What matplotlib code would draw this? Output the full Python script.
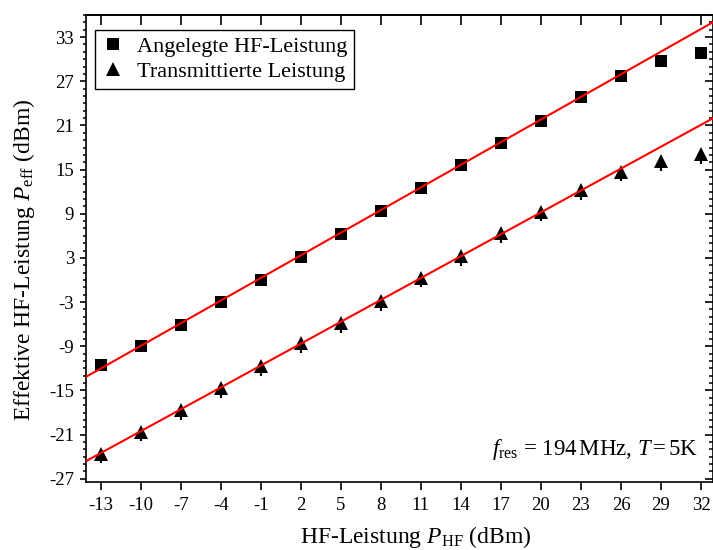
import matplotlib
matplotlib.use("Agg")
import matplotlib.pyplot as plt
import numpy as np
from matplotlib.ticker import MultipleLocator

# ---------------- data ----------------
x_dbm = [-13, -10, -7, -4, -1, 2, 5, 8, 11, 14, 17, 20, 23, 26, 29, 32]
p_applied = [-11.5, -9.0, -6.1, -3.05, 0.0, 3.15, 6.3, 9.4, 12.45, 15.6,
             18.65, 21.65, 24.8, 27.7, 29.8, 30.8]
p_trans = [-23.6, -20.6, -17.7, -14.7, -11.7, -8.55, -5.9, -2.85, 0.3, 3.25,
           6.35, 9.3, 12.2, 14.7, 16.1, 17.1]
p_trans_err_low = [1.3] * len(x_dbm)
p_trans_err_up = [0.0] * len(x_dbm)

fit_applied = (1.025, 1.3)     # slope, intercept
fit_trans = (0.991, -10.63)

x_ticks = list(range(-13, 33, 3))
y_ticks = list(range(-27, 34, 6))

label_applied = "Angelegte HF-Leistung"
label_trans = "Transmittierte Leistung"

# ---------------- style ----------------
plt.rcParams["font.family"] = ["Liberation Serif", "DejaVu Serif"]
plt.rcParams["mathtext.fontset"] = "custom"
plt.rcParams["mathtext.rm"] = "Liberation Serif"
plt.rcParams["mathtext.it"] = "Liberation Serif:italic"
plt.rcParams["axes.unicode_minus"] = False

fig = plt.figure(figsize=(7.13, 5.5), dpi=100)
ax = fig.add_axes([86 / 713, (550 - 481.5) / 550, (713 - 86) / 713, (481.5 - 15) / 550])

xlim = (-14.1, 32.9)
ax.set_xlim(*xlim)
ax.set_ylim(-27.37, 36.0)

ax.plot(x_dbm, p_applied, linestyle="none", marker="s", markersize=8.8,
        color="black", markeredgewidth=0, zorder=3, label=label_applied)
ax.errorbar(x_dbm, p_trans, yerr=[p_trans_err_low, p_trans_err_up], fmt="none",
            ecolor="black", elinewidth=1.5, capsize=0, zorder=3)
ax.plot(x_dbm, p_trans, linestyle="none", marker="^", markersize=10,
        color="black", markeredgewidth=0, zorder=3, label=label_trans)

xs = np.array(xlim)
ax.plot(xs, fit_applied[0] * xs + fit_applied[1], color="red", lw=1.5, zorder=4)
ax.plot(xs, fit_trans[0] * xs + fit_trans[1], color="red", lw=1.5, zorder=4)

ax.set_xticks(x_ticks)
ax.set_xticklabels([str(v) for v in x_ticks])
ax.set_yticks(y_ticks)
ax.set_yticklabels([str(v) for v in y_ticks])
ax.yaxis.set_minor_locator(MultipleLocator(1))

ax.tick_params(axis="both", which="both", direction="out", width=1.2,
               labelsize=13.5, top=False, right=False)
ax.tick_params(axis="x", which="major", length=6, pad=5)
ax.tick_params(axis="y", which="major", length=4.5, pad=4)
ax.tick_params(axis="y", which="minor", length=2.5, width=1.1)

for s in ax.spines.values():
    s.set_linewidth(1.2)

secx = ax.secondary_xaxis("top")
secx.set_xticks(x_ticks)
secx.tick_params(direction="in", length=7, width=1.2, labeltop=False)
secx.spines["top"].set_linewidth(1.2)

secy = ax.secondary_yaxis("right")
secy.set_yticks(y_ticks)
secy.yaxis.set_minor_locator(MultipleLocator(1))
secy.tick_params(which="major", direction="in", length=5.5, width=1.2, labelright=False)
secy.tick_params(which="minor", direction="in", length=3, width=1.1, labelright=False)

ax.set_xlabel(r"HF-Leistung $P_{\mathrm{HF}}$ (dBm)", fontsize=17)
ax.xaxis.set_label_coords((416 - 86) / 627, -0.091)
ax.set_ylabel(r"Effektive HF-Leistung $P_{\mathrm{eff}}$ (dBm)", fontsize=17)
ax.yaxis.set_label_coords(-0.078, (481.5 - 260) / 466.5)

leg = ax.legend(loc="upper left", bbox_to_anchor=((95 - 86) / 627, (481.5 - 30) / 466.5),
                borderaxespad=0, frameon=True, fancybox=False, edgecolor="black",
                framealpha=1, fontsize=16, handlelength=1.0, handletextpad=0.6,
                borderpad=0.3, labelspacing=0.2)
leg.get_frame().set_linewidth(1.0)

ax.text(0.976, 0.057, r"$f_{\mathrm{res}}$ = 194$\,$MHz, $T$$\,$=$\,$5K",
        transform=ax.transAxes, ha="right", va="baseline", fontsize=16.5)

fig.savefig("out.png", dpi=100)
